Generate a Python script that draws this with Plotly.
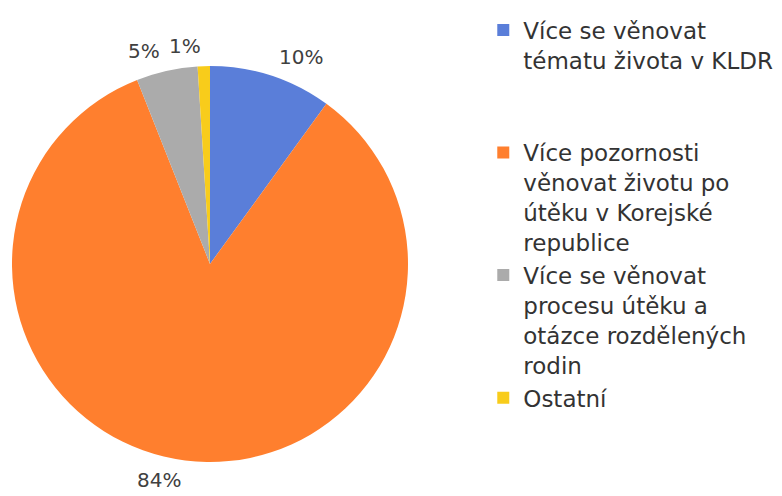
import math
import plotly.graph_objects as go

# Survey answers and their shares (%)
categories = [
    "Více se věnovat tématu života v KLDR",
    "Více pozornosti věnovat životu po útěku v Korejské republice",
    "Více se věnovat procesu útěku a otázce rozdělených rodin",
    "Ostatní",
]
shares = [10, 84, 5, 1]

# Legend text, wrapped onto lines
legend_labels = [
    "Více se věnovat<br>tématu života v KLDR<br> <br> ",
    "Více pozornosti<br>věnovat životu po<br>útěku v Korejské<br>republice",
    "Více se věnovat<br>procesu útěku a<br>otázce rozdělených<br>rodin",
    "Ostatní",
]
colors = ["#5A7ED9", "#FF7F2E", "#ABABAB", "#F8CC1B"]

W, H = 782, 496
cx, cy, r = 210, 264, 198
label_r = r * 1.10

fig = go.Figure(
    go.Pie(
        labels=legend_labels,
        values=shares,
        hovertext=categories,
        sort=False,
        direction="clockwise",
        rotation=0,
        marker=dict(colors=colors, line=dict(width=0)),
        textinfo="none",
        domain=dict(x=[(cx - r) / W, (cx + r) / W],
                    y=[(H - cy - r) / H, (H - cy + r) / H]),
        automargin=False,
    )
)

# Percentage labels placed just outside each slice, at its mid angle
total = sum(shares)
start = 0.0
for v in shares:
    mid = (start + v / 2) / total * 2 * math.pi
    start += v
    px = cx + label_r * math.sin(mid)
    py = cy - label_r * math.cos(mid)
    fig.add_annotation(
        x=px / W,
        y=1 - py / H,
        xref="paper",
        yref="paper",
        text=f"{v}%",
        showarrow=False,
        xanchor="left" if math.sin(mid) >= 0 else "right",
        yanchor="middle",
        font=dict(size=20, color="#404040", family="DejaVu Sans"),
    )

fig.update_layout(
    width=W,
    height=H,
    margin=dict(l=0, r=0, t=0, b=0),
    paper_bgcolor="white",
    plot_bgcolor="white",
    font=dict(family="DejaVu Sans", color="#333333"),
    legend=dict(
        x=0.618,
        y=0.983,
        xanchor="left",
        yanchor="top",
        valign="top",
        font=dict(size=23, color="#333333"),
        itemsizing="constant",
        tracegroupgap=0,
    ),
)

fig.write_html("out.html")
